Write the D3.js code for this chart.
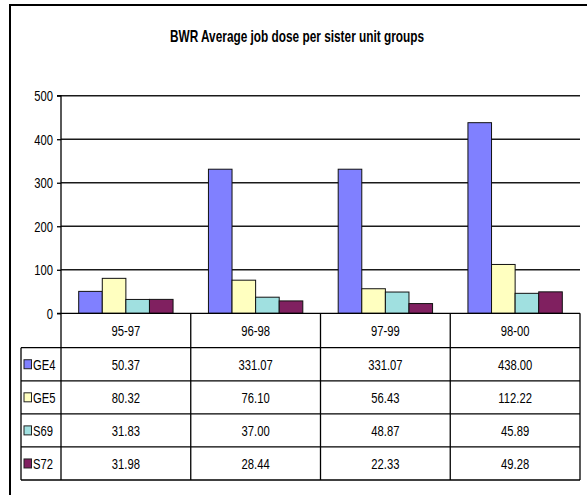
<!DOCTYPE html>
<html>
<head>
<meta charset="utf-8">
<script src="https://cdn.jsdelivr.net/npm/d3@7"></script>
<style>
  html, body { margin: 0; padding: 0; background: #fff; }
  svg { display: block; }
  text { font-family: "Liberation Sans", Arial, sans-serif; fill: #000; }
</style>
</head>
<body>
<svg id="chart" width="587" height="495"></svg>
<script>
const title = "BWR Average job dose per sister unit groups";
const categories = ["95-97", "96-98", "97-99", "98-00"];
const seriesNames = ["GE4", "GE5", "S69", "S72"];
const GE4 = [50.37, 331.07, 331.07, 438.00];
const GE5 = [80.32, 76.10, 56.43, 112.22];
const S69 = [31.83, 37.00, 48.87, 45.89];
const S72 = [31.98, 28.44, 22.33, 49.28];
const yTicks = [0, 100, 200, 300, 400, 500];
const colors = ["#8080FF", "#FFFFC0", "#A0E0E0", "#802060"];

const seriesValues = [GE4, GE5, S69, S72];
const series = seriesNames.map((name, i) => ({ name, values: seriesValues[i], color: colors[i] }));

const svg = d3.select("#chart");
const SX = 0.75;
const FS = 15;

function label(g, x, y, str, anchor, opts = {}) {
  return g.append("text")
    .attr("transform", `translate(${x},${y}) scale(${opts.sx || SX},1)`)
    .attr("text-anchor", anchor)
    .attr("font-size", opts.size || FS)
    .attr("font-weight", opts.weight || "normal")
    .text(str);
}

// Outer frame (only top and left visible)
svg.append("path").attr("d", "M10,495 L10,5 L587,5")
  .attr("fill", "none").attr("stroke", "#000").attr("stroke-width", 2);

// Title
label(svg, 297, 42, title, "middle", { size: 16, weight: "bold", sx: 0.74 });

const plotLeft = 61, plotRight = 580;
const y0 = 313.3, yTop = 95.7;

const x = d3.scaleBand().domain(categories).range([plotLeft, plotRight]).paddingInner(0).paddingOuter(0);
const y = d3.scaleLinear().domain([0, 500]).range([y0, yTop]);

const bw = x.bandwidth();
const barW = bw / 5.5;
const x1 = d3.scaleBand().domain(seriesNames)
  .range([(bw - 4 * barW) / 2, (bw + 4 * barW) / 2]).padding(0);

// Gridlines
svg.append("g").selectAll("line").data(yTicks.filter(t => t > 0)).join("line")
  .attr("x1", plotLeft).attr("x2", plotRight)
  .attr("y1", d => y(d)).attr("y2", d => y(d))
  .attr("stroke", "#1a1a1a").attr("stroke-width", 1.4);

// Y axis
const yAxis = d3.axisLeft(y).tickValues(yTicks).tickSize(4).tickFormat("");
const ya = svg.append("g").attr("transform", `translate(${plotLeft},0)`).call(yAxis);
ya.select(".domain").attr("stroke", "#000").attr("stroke-width", 1.3).attr("d", `M-4,${yTop}H0V${y0}H-4`);
ya.selectAll(".tick line").attr("stroke", "#000").attr("stroke-width", 1.3);
yTicks.forEach(t => label(svg, 53, y(t) + 5.3, String(t), "end"));

// Bars
const groups = svg.append("g").selectAll("g").data(categories).join("g")
  .attr("transform", d => `translate(${x(d)},0)`);
groups.selectAll("rect")
  .data((c, ci) => series.map(s => ({ name: s.name, value: s.values[ci], color: s.color })))
  .join("rect")
  .attr("x", d => x1(d.name))
  .attr("width", x1.bandwidth())
  .attr("y", d => y(d.value))
  .attr("height", d => y0 - y(d.value))
  .attr("fill", d => d.color)
  .attr("stroke", "#111").attr("stroke-width", 1);

// Data table
const headerBottom = 347.7;
const tableBottom = 480;
const tableLeft = 21;
const rowH = (tableBottom - headerBottom) / seriesNames.length;
const tg = svg.append("g");
const line = (x1_, y1_, x2_, y2_) => tg.append("line")
  .attr("x1", x1_).attr("y1", y1_).attr("x2", x2_).attr("y2", y2_)
  .attr("stroke", "#000").attr("stroke-width", 1.3);

// horizontal lines
line(plotLeft, y0, plotRight, y0);
line(tableLeft, headerBottom, plotRight, headerBottom);
seriesNames.forEach((s, i) => line(tableLeft, headerBottom + rowH * (i + 1), plotRight, headerBottom + rowH * (i + 1)));
// vertical lines
line(tableLeft, headerBottom, tableLeft, tableBottom);
line(plotLeft, y0, plotLeft, tableBottom);
categories.forEach(c => line(x(c) + bw, y0, x(c) + bw, tableBottom));

// header labels
categories.forEach(c => label(tg, x(c) + bw / 2, (y0 + headerBottom) / 2 + 5.3, c, "middle"));

// rows
const fmt = d3.format(".2f");
series.forEach((s, i) => {
  const cy = headerBottom + rowH * i + rowH / 2;
  tg.append("rect").attr("x", 24).attr("y", cy - 4.5).attr("width", 7.5).attr("height", 9)
    .attr("fill", s.color).attr("stroke", "#222").attr("stroke-width", 1);
  label(tg, 33, cy + 5.3, s.name, "start");
  s.values.forEach((v, ci) => label(tg, x(categories[ci]) + bw / 2, cy + 5.3, fmt(v), "middle"));
});
</script>
</body>
</html>
